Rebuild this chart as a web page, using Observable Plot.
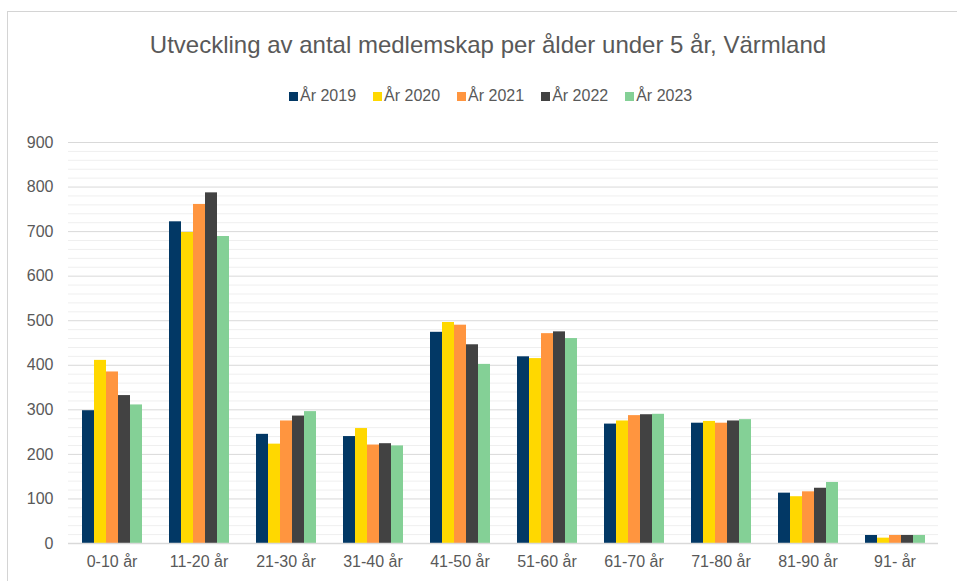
<!DOCTYPE html>
<html>
<head>
<meta charset="utf-8">
<script src="https://cdn.jsdelivr.net/npm/d3@7"></script>
<script src="https://cdn.jsdelivr.net/npm/@observablehq/plot@0.6"></script>
<style>
  html, body { margin: 0; padding: 0; background: #fff; overflow: hidden; }
  body { width: 957px; height: 581px; position: relative; font-family: "Liberation Sans", Arial, sans-serif; color: #595959; }
  #frame { position: absolute; left: 7px; top: 11px; width: 1000px; height: 700px; border-left: 1px solid #d4d4d4; border-top: 1px solid #d4d4d4; }
  #title { position: absolute; left: 0; top: 33px; width: 976px; text-align: center; font-size: 24px; line-height: 24px; white-space: nowrap; }
  #legend { position: absolute; left: 289px; top: 87.5px; display: flex; gap: 17px; font-size: 16px; line-height: 16px; white-space: nowrap; }
  .item { display: flex; align-items: baseline; }
  .sw { display: inline-block; width: 9px; height: 9px; margin-right: 2px; }
  #chart { position: absolute; left: 0; top: 120px; }
</style>
</head>
<body>
<div id="frame"></div>
<div id="title">Utveckling av antal medlemskap per ålder under 5 år, Värmland</div>
<div id="legend"></div>
<div id="chart"></div>
<script>
const ages = ["0-10 år", "11-20 år", "21-30 år", "31-40 år", "41-50 år", "51-60 år", "61-70 år", "71-80 år", "81-90 år", "91- år"];
const years = ["År 2019", "År 2020", "År 2021", "År 2022", "År 2023"];
const colors = ["#023865", "#ffd800", "#ff953f", "#424242", "#84d096"];
const v2019 = [298, 722, 245, 240, 474, 419, 268, 270, 113, 18];
const v2020 = [411, 698, 223, 258, 496, 415, 275, 274, 105, 12];
const v2021 = [385, 761, 275, 221, 490, 471, 287, 270, 116, 18];
const v2022 = [332, 787, 286, 224, 446, 475, 289, 275, 124, 18];
const v2023 = [311, 689, 296, 219, 402, 460, 290, 278, 137, 18];
const yTicks = [0, 100, 200, 300, 400, 500, 600, 700, 800, 900];
const yMinor = [20, 40, 60, 80, 120, 140, 160, 180, 220, 240, 260, 280, 320, 340, 360, 380, 420, 440, 460, 480, 520, 540, 560, 580, 620, 640, 660, 680, 720, 740, 760, 780, 820, 840, 860, 880];

const series = [v2019, v2020, v2021, v2022, v2023];
const data = [];
years.forEach((yr, i) => ages.forEach((a, j) => data.push({age: a, year: yr, value: series[i][j]})));

// legend
const legend = document.getElementById("legend");
years.forEach((yr, i) => {
  const it = document.createElement("div");
  it.className = "item";
  const sw = document.createElement("span");
  sw.className = "sw";
  sw.style.background = colors[i];
  it.appendChild(sw);
  it.appendChild(document.createTextNode(yr));
  legend.appendChild(it);
});

const chart = Plot.plot({
  width: 957,
  height: 461,
  marginLeft: 67,
  marginRight: 18,
  marginTop: 22,
  marginBottom: 38,
  style: {fontFamily: "'Liberation Sans', Arial, sans-serif", fontSize: "16px", color: "#595959", background: "transparent", overflow: "visible"},
  fx: {domain: ages, padding: 0, axis: "bottom", label: null, tickSize: 0, tickPadding: 12},
  x: {domain: years, axis: null, paddingInner: 0, paddingOuter: 0.99},
  y: {domain: [0, 900], ticks: yTicks, tickSize: 0, tickPadding: 15, label: null},
  color: {domain: years, range: colors},
  marks: [
    Plot.ruleY(yMinor, {stroke: "#efefef", strokeWidth: 1}),
    Plot.ruleY(yTicks.filter(d => d > 0), {stroke: "#d9d9d9", strokeWidth: 1}),
    Plot.barY(data, {fx: "age", x: "year", y: "value", fill: "year"}),
    Plot.ruleY([0], {stroke: "#d9d9d9", strokeWidth: 1.5})
  ]
});
document.getElementById("chart").appendChild(chart);
</script>
</body>
</html>
